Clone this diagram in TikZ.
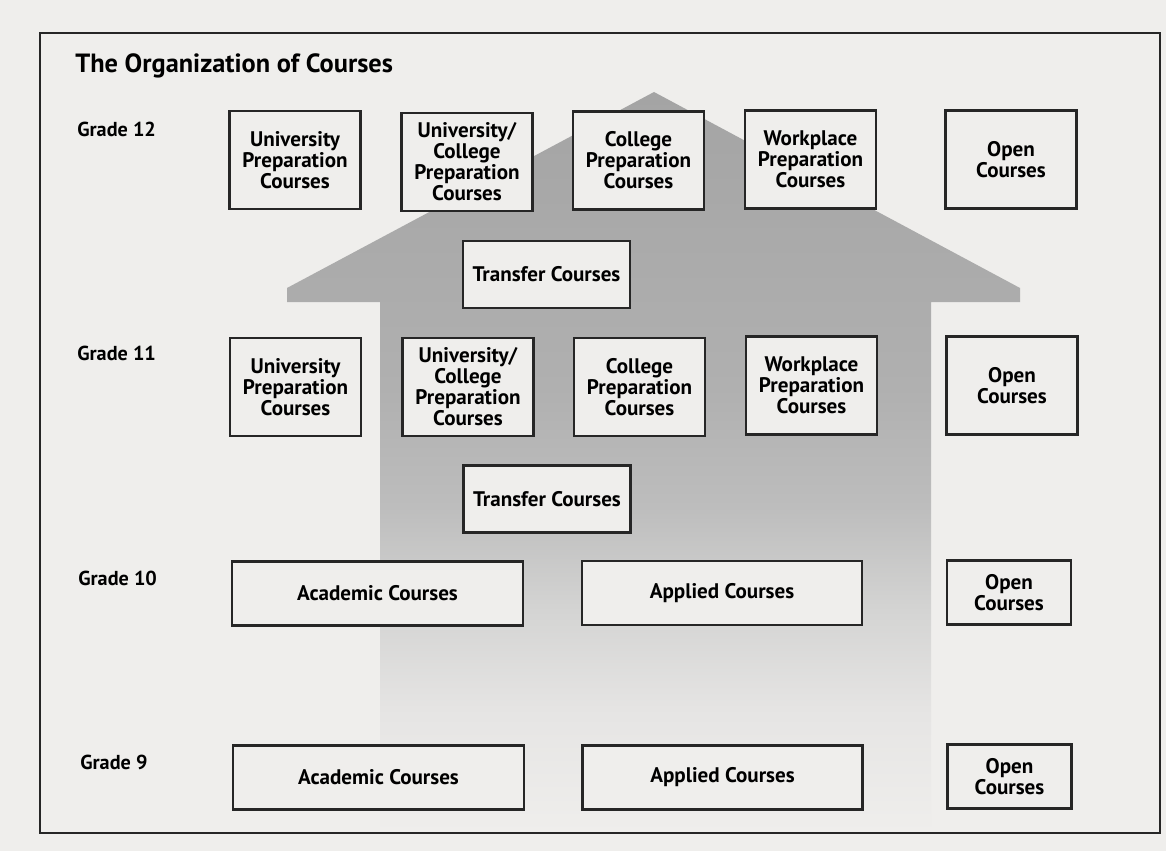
\documentclass[tikz,border=0pt]{standalone}
\usepackage{fontspec}
\setmainfont{PT Sans}
\usetikzlibrary{positioning}

\definecolor{paper}{HTML}{EFEEEC}
\definecolor{fadeA}{HTML}{E6E5E4}
\definecolor{fadeB}{HTML}{D4D4D3}
\definecolor{fadeC}{HTML}{BDBDBD}
\definecolor{fadeD}{HTML}{B0B0B0}
\definecolor{roof}{HTML}{A4A4A4}

\pgfdeclareverticalshading{housefade}{100bp}{color(0bp)=(paper); color(25bp)=(paper);
  color(33bp)=(fadeA); color(40bp)=(fadeB); color(47bp)=(fadeC); color(55bp)=(fadeD);
  color(75bp)=(roof); color(100bp)=(roof)}

\begin{document}
\begin{tikzpicture}[x=0.02cm, y=-0.02cm,
  course/.style={draw=black!85, line width=1.5pt, fill=paper, align=center,
    font=\fontsize{12}{12}\selectfont\bfseries, inner sep=0pt},
  square/.style={course, minimum width=2.62cm, minimum height=1.96cm},
  transfer/.style={course, minimum width=3.34cm, minimum height=1.34cm},
  academic/.style={course, minimum width=5.82cm, minimum height=1.28cm},
  applied/.style={course, minimum width=5.6cm, minimum height=1.28cm},
  open/.style={course, minimum width=2.48cm, minimum height=1.28cm},
  grade/.style={anchor=west, inner sep=0pt, font=\fontsize{11.5}{13}\selectfont\bfseries},
  title/.style={anchor=west, inner sep=0pt, font=\fontsize{15}{17}\selectfont\bfseries}]

\useasboundingbox (0,0) rectangle (1166,851);
\fill[paper] (0,0) rectangle (1166,851);

% the house
\shade[shading=housefade] (654,92) -- (1020,288) -- (1020,302) -- (931,302) -- (931,833)
  -- (380,833) -- (380,302) -- (287,302) -- (287,288) -- cycle;

\draw[line width=1.1pt, black!85] (40,33) rectangle (1160,833);

\node[title] (title) at (75,66) {The Organization of Courses};

\node[grade] (g12) at (77,129) {Grade 12};
\node[grade] (g11) at (77,353) {Grade 11};
\node[grade] (g10) at (78,578) {Grade 10};
\node[grade] (g9) at (80,762) {Grade 9};

% grade 12
\node[square] (up12) at (295,160) {University\\Preparation\\Courses};
\node[square] (uc12) at (467,162) {University/\\College\\Preparation\\Courses};
\node[square] (cp12) at (638.5,160.5) {College\\Preparation\\Courses};
\node[square] (wp12) at (810.5,159.5) {Workplace\\Preparation\\Courses};
\node[square] (op12) at (1011,159.5) {Open\\Courses};
\node[transfer] (tr12) at (546.5,274.5) {Transfer Courses};

% grade 11
\node[square] (up11) at (295.5,387) {University\\Preparation\\Courses};
\node[square] (uc11) at (468,387) {University/\\College\\Preparation\\Courses};
\node[square] (cp11) at (639.5,387) {College\\Preparation\\Courses};
\node[square] (wp11) at (811.5,385.5) {Workplace\\Preparation\\Courses};
\node[square] (op11) at (1012,385.5) {Open\\Courses};
\node[transfer] (tr11) at (547,499) {Transfer Courses};

% grade 10
\node[academic] (ac10) at (377.5,593.5) {Academic Courses};
\node[applied] (ap10) at (722,593) {Applied Courses};
\node[open] (op10) at (1009,592.5) {Open\\Courses};

% grade 9
\node[academic] (ac9) at (378.5,777.5) {Academic Courses};
\node[applied] (ap9) at (722.5,777.5) {Applied Courses};
\node[open] (op9) at (1009.5,776.5) {Open\\Courses};

\end{tikzpicture}
\end{document}
